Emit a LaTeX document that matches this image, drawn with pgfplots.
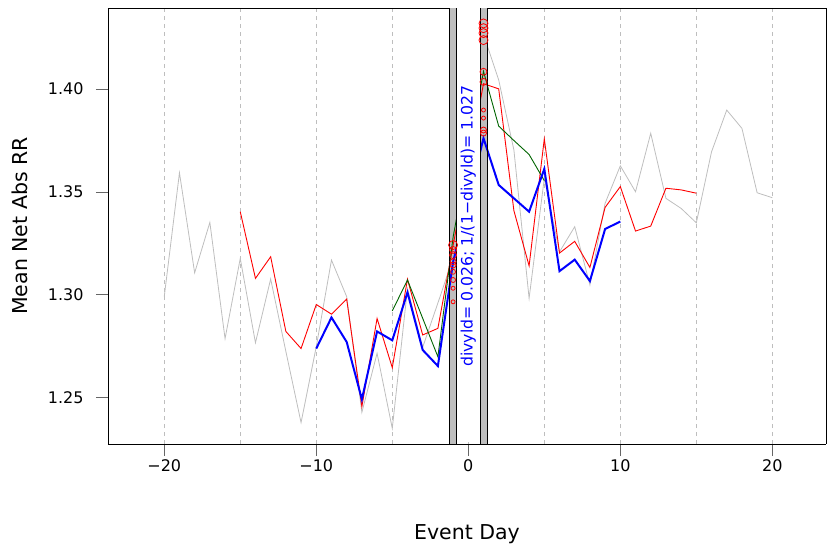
\documentclass[border=0pt]{standalone}
\usepackage{fontspec}
\setmainfont{DejaVu Sans}
\usepackage{pgfplots}
\pgfplotsset{compat=1.18}
\definecolor{rgray}{RGB}{190,190,190}
\definecolor{rgreen}{RGB}{0,100,0}

\begin{document}
\begin{tikzpicture}
\useasboundingbox (-108pt,-100pt) rectangle (719pt,444pt);
\begin{axis}[
  at={(0,0)}, anchor=south west,
  scale only axis, width=718pt, height=436pt,
  xmin=-23.70, xmax=23.53, ymin=1.2275, ymax=1.4394,
  axis x line*=bottom, axis y line*=left,
  axis line style={line width=0.8pt, black},
  tick align=outside, major tick length=12pt, minor tick length=0pt,
  tick style={line width=0.8pt, black!60},
  xtick={-20,-10,0,10,20}, xticklabels={−20,−10,0,10,20},
  minor xtick={-15,-5,5,15},
  ytick={1.25,1.30,1.35,1.40}, yticklabels={1.25,1.30,1.35,1.40},
  xmajorgrids, xminorgrids,
  major grid style={rgray, dash pattern=on 4pt off 4pt, line width=0.8pt},
  minor grid style={rgray, dash pattern=on 4pt off 4pt, line width=0.8pt},
  ticklabel style={font=\fontsize{16}{19}\selectfont},
  yticklabel style={xshift=-9pt},
  clip=false,
  xlabel={Event Day}, ylabel={Mean Net Abs RR},
  label style={font=\fontsize{20.5}{24}\selectfont},
  xlabel style={at={(axis description cs:0.5,-0.2057)}, anchor=center},
  ylabel style={at={(axis description cs:-0.1226,0.5)}, anchor=center},
]
% shaded event-day bands
\fill[rgray] (axis cs:-1.22,1.2275) rectangle (axis cs:-0.75,1.4394);
\fill[rgray] (axis cs:0.77,1.2275) rectangle (axis cs:1.28,1.4394);

% gray series
\addplot[rgray, line width=0.8pt] table {
-20 1.2991
-19 1.3593
-18 1.3107
-17 1.3352
-16 1.2787
-15 1.3177
-14 1.2767
-13 1.3077
-12 1.2725
-11 1.2379
-10 1.2748
-9 1.3169
-8 1.2991
-7 1.2429
-6 1.2716
-5 1.2351
-4 1.3030
-3 1.2745
-2 1.2960
-1 1.3180
1 1.4266
2 1.4044
3 1.3704
4 1.2983
5 1.3566
6 1.3209
7 1.3331
8 1.3048
9 1.3445
10 1.3627
11 1.3501
12 1.3785
13 1.3469
14 1.3420
15 1.3350
16 1.3695
17 1.3898
18 1.3809
19 1.3496
20 1.3472
};
% red series
\addplot[red, line width=0.9pt] table {
-15 1.3404
-14 1.3080
-13 1.3185
-12 1.2822
-11 1.2739
-10 1.2953
-9 1.2906
-8 1.2979
-7 1.2457
-6 1.2885
-5 1.2646
-4 1.3076
-3 1.2805
-2 1.2837
-1 1.3240
1 1.4026
2 1.4001
3 1.3409
4 1.3141
5 1.3758
6 1.3203
7 1.3260
8 1.3133
9 1.3425
10 1.3526
11 1.3310
12 1.3334
13 1.3518
14 1.3510
15 1.3494
};
% green series
\addplot[rgreen, line width=0.9pt] table {
-5 1.2922
-4 1.3072
-3 1.2886
-2 1.2699
-1 1.3280
1 1.4086
2 1.3820
3 1.3750
4 1.3682
5 1.3555
};
% blue series
\addplot[blue, line width=2pt] table {
-10 1.2739
-9 1.2890
-8 1.2771
-7 1.2492
-6 1.2822
-5 1.2779
-4 1.3012
-3 1.2732
-2 1.2654
-1 1.3160
1 1.3761
2 1.3534
3 1.3469
4 1.3404
5 1.3612
6 1.3115
7 1.3171
8 1.3067
9 1.3320
10 1.3356
};

% circles at day -1 and day 1
\addplot[only marks, mark=o, red, mark size=4.5pt, line width=0.8pt] table {
-1 1.3242
1 1.4319
1 1.4296
1 1.4272
1 1.4238
};
\addplot[only marks, mark=o, red, mark size=3.5pt, line width=0.8pt] table {
-1 1.3218
-1 1.3193
1 1.4084
1 1.4035
};
\addplot[only marks, mark=o, red, mark size=3pt, line width=0.8pt] table {
-1 1.3161
-1 1.3145
1 1.3801
1 1.3786
};
\addplot[only marks, mark=o, red, mark size=2.5pt, line width=0.8pt] table {
-1 1.3112
-1 1.3072
};
\addplot[only marks, mark=o, red, mark size=2pt, line width=0.8pt] table {
-1 1.3032
-1 1.2966
1 1.3898
1 1.3859
};

% gap between panels
\fill[white] (axis cs:-0.75,1.2285) rectangle (axis cs:0.77,1.4420);
\draw[line width=0.8pt] (rel axis cs:0,1) -- (axis cs:-1.22,1.4394) -- (axis cs:-1.22,1.2275);
\draw[line width=0.8pt] (axis cs:-0.75,1.2275) -- (axis cs:-0.75,1.4394);
\draw[line width=0.8pt] (axis cs:0.77,1.2275) -- (axis cs:0.77,1.4394);
\draw[line width=0.8pt] (axis cs:1.28,1.2275) -- (axis cs:1.28,1.4394) -- (rel axis cs:1,1) -- (rel axis cs:1,0);

\node[rotate=90, text=blue, font=\fontsize{15.7}{18}\selectfont] at (axis cs:0,1.3334) {divyld= 0.026; 1/(1−divyld)= 1.027};
\end{axis}
\end{tikzpicture}
\end{document}
